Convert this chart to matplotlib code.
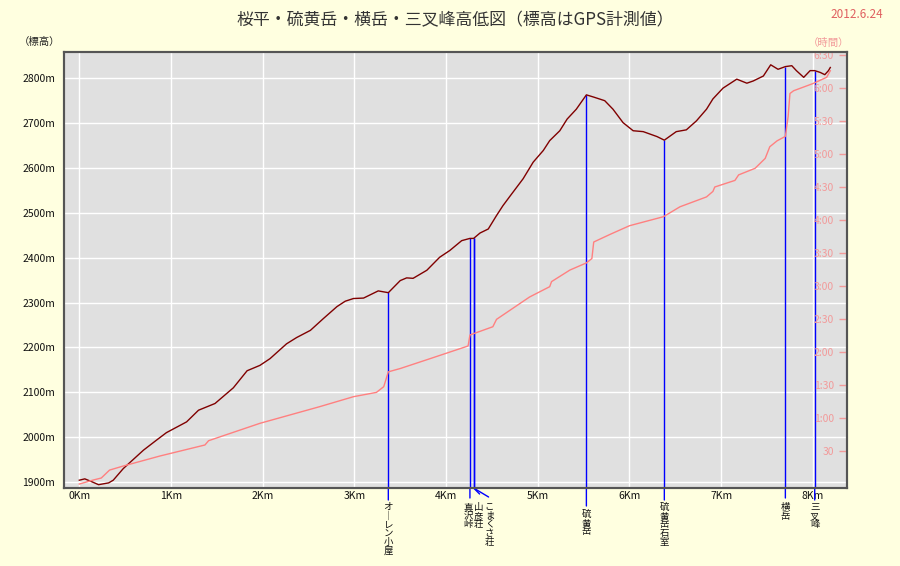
import matplotlib
matplotlib.use('Agg')
import matplotlib.pyplot as plt
from matplotlib.transforms import blended_transform_factory

plt.rcParams['font.family'] = ['Noto Sans CJK JP', 'DejaVu Sans']

# ---------------- data ----------------
dist_km = [0.00, 0.06, 0.12, 0.21, 0.32, 0.37, 0.48, 0.70, 0.84, 0.95,
           1.17, 1.30, 1.48, 1.68, 1.83, 1.97, 2.08, 2.26, 2.37, 2.52,
           2.66, 2.81, 2.90, 2.99, 3.10, 3.26, 3.37, 3.50, 3.57, 3.64,
           3.79, 3.93, 4.04, 4.17, 4.26, 4.30, 4.37, 4.46, 4.55, 4.62,
           4.70, 4.84, 4.95, 5.06, 5.13, 5.24, 5.32, 5.42, 5.53, 5.61,
           5.73, 5.82, 5.93, 6.04, 6.15, 6.30, 6.38, 6.51, 6.62, 6.73,
           6.84, 6.91, 7.02, 7.17, 7.28, 7.35, 7.46, 7.54, 7.62, 7.70,
           7.77, 7.82, 7.90, 7.97, 8.02, 8.08, 8.13, 8.17, 8.19]
elev_m = [1904, 1907, 1902, 1894, 1898, 1904, 1930, 1971, 1993, 2010,
          2034, 2060, 2075, 2110, 2148, 2160, 2175, 2208, 2222, 2238,
          2264, 2291, 2303, 2309, 2310, 2326, 2322, 2349, 2355, 2354,
          2372, 2401, 2416, 2438, 2443, 2443, 2455, 2464, 2494, 2516,
          2538, 2576, 2613, 2639, 2661, 2683, 2709, 2731, 2763, 2758,
          2750, 2731, 2701, 2683, 2681, 2670, 2662, 2681, 2685, 2705,
          2731, 2754, 2778, 2798, 2789, 2794, 2805, 2830, 2820, 2826,
          2828, 2817, 2802, 2817, 2817, 2813, 2808, 2817, 2824]

time_km = [0.00, 0.15, 0.24, 0.33, 0.48, 0.88, 1.37, 1.41, 1.97, 2.62,
           2.99, 3.24, 3.32, 3.37, 3.50, 3.79, 4.24, 4.26, 4.51, 4.55,
           4.91, 5.13, 5.15, 5.35, 5.53, 5.59, 5.61, 5.79, 6.00, 6.37,
           6.55, 6.84, 6.91, 6.93, 7.15, 7.19, 7.37, 7.48, 7.53, 7.61,
           7.70, 7.73, 7.75, 7.79, 8.00, 8.15, 8.19]
time_min = [0, 3.6, 5.5, 12.7, 16.4, 25.5, 35.5, 39.4, 55.2, 70.3,
            79.4, 83.3, 88.5, 102, 105, 113, 125.5, 135.5, 143, 149.7,
            170, 179.4, 184, 194.5, 201, 205, 220, 227, 234.8, 243,
            252, 261, 266, 270, 276, 281, 287, 296, 306.6, 312,
            316, 334, 355, 357.5, 364, 369.7, 375.7]

elev_ticks = [1900, 2000, 2100, 2200, 2300, 2400, 2500, 2600, 2700, 2800]
elev_labels = ['1900m', '2000m', '2100m', '2200m', '2300m',
               '2400m', '2500m', '2600m', '2700m', '2800m']
dist_ticks = [0, 1, 2, 3, 4, 5, 6, 7, 8]
dist_labels = ['0Km', '1Km', '2Km', '3Km', '4Km', '5Km', '6Km', '7Km', '8Km']
time_ticks = [30, 60, 90, 120, 150, 180, 210, 240, 270, 300, 330, 360, 390]
time_labels = ['30', '1:00', '1:30', '2:00', '2:30', '3:00', '3:30',
               '4:00', '4:30', '5:00', '5:30', '6:00', '6:30']

marker_names = ['オーレン小屋', '真沢峠', '山彦荘', 'こまくさ荘',
                '硫黄岳', '硫黄岳石室', '横岳', '三叉峰']
marker_km = [3.37, 4.26, 4.30, 4.30, 5.53, 6.38, 7.70, 8.02]
marker_elev = [2323, 2443, 2443, 2443, 2763, 2662, 2826, 2817]

title = '桜平・硫黄岳・横岳・三叉峰高低図（標高はGPS計測値）'
date_text = '2012.6.24'

# ---------------- layout / style ----------------
BG = '#ffffe0'
PLOT_BG = '#e0e0e0'
ELEV_C = '#800000'
TIME_C = '#ff8080'
TICK_PINK = '#f29a9a'
BLUE = '#0000ff'
# leader line end offset (px) and label offset (px) below the axis
line_dx = [0, 0, 6, 15, 0, 0, 0, 0]
line_dy = [12, 10, 6, 9, 18, 12, 10, 12]
label_dx = [0, -2, 5, 16, 0, 0, 0, 0]
label_dy = [15, 15, 15, 15, 22, 15, 15, 15]

fig = plt.figure(figsize=(9, 5.66), dpi=100, facecolor=BG)
ax = fig.add_axes([0.0711, 0.1378, 0.870, 0.7703])
ax.set_facecolor(PLOT_BG)
ax.set_xlim(-0.167, 8.372)
ax.set_ylim(1886.6, 2858.5)

ax.set_axisbelow(True)
ax.grid(True, color='white', lw=1.0)

ax.set_yticks(elev_ticks, labels=elev_labels)
ax.set_xticks(dist_ticks, labels=dist_labels)
ax.tick_params(axis='y', length=0, pad=6.5, labelsize=7.5, colors='#111111')
ax.tick_params(axis='x', length=0, pad=2.5, labelsize=7.5, colors='#111111')

for s in ax.spines.values():
    s.set_color('#555555')
    s.set_linewidth(1.5)

# vertical marker lines inside plot
ax.vlines(marker_km, ax.get_ylim()[0], marker_elev, colors=BLUE, lw=1.0, zorder=2)

# elevation profile
ax.plot(dist_km, elev_m, color=ELEV_C, lw=1.0, zorder=4)

# below-axis leader lines and vertical labels
blend = blended_transform_factory(ax.transData, ax.transAxes)
for name, km, ldx, ldy, tdx, tdy in zip(marker_names, marker_km, line_dx,
                                        line_dy, label_dx, label_dy):
    ax.annotate('', xy=(km, 0), xycoords=blend,
                xytext=(ldx, -ldy), textcoords='offset pixels',
                arrowprops=dict(arrowstyle='-', color=BLUE, lw=1.0,
                                shrinkA=0, shrinkB=0),
                annotation_clip=False)
    vtext = '\n'.join(name.replace('ー', '｜'))
    ax.annotate(vtext, xy=(km, 0), xycoords=blend,
                xytext=(tdx, -tdy), textcoords='offset pixels',
                ha='center', va='top', fontsize=6.8, linespacing=0.95,
                color='#111111', annotation_clip=False)

# time axis
ax2 = ax.twinx()
ax2.set_ylim(-3.6, 392.7)
ax2.plot(time_km, time_min, color=TIME_C, lw=1.0, zorder=3)
ax2.set_yticks(time_ticks, labels=time_labels)
ax2.tick_params(axis='y', direction='in', length=6, width=1, color=TICK_PINK,
                labelcolor=TICK_PINK, labelsize=7.5, pad=-9.5)
for lbl in ax2.get_yticklabels():
    lbl.set_horizontalalignment('right')
for s in ax2.spines.values():
    s.set_color('#555555')
    s.set_linewidth(1.5)

# texts
fig.text(455 / 900, 1 - 20 / 566, title, ha='center', va='center',
         fontsize=12.2, color='#333333')
fig.text(857 / 900, 1 - 15 / 566, date_text, ha='center', va='center',
         fontsize=8.5, color='#e06060')
fig.text(40 / 900, 1 - 42 / 566, '（標高）', ha='center', va='center',
         fontsize=7.5, color='#222222')
fig.text(829 / 900, 1 - 43 / 566, '（時間）', ha='center', va='center',
         fontsize=7.5, color=TICK_PINK)

fig.savefig('out.png', dpi=100, facecolor=BG)
